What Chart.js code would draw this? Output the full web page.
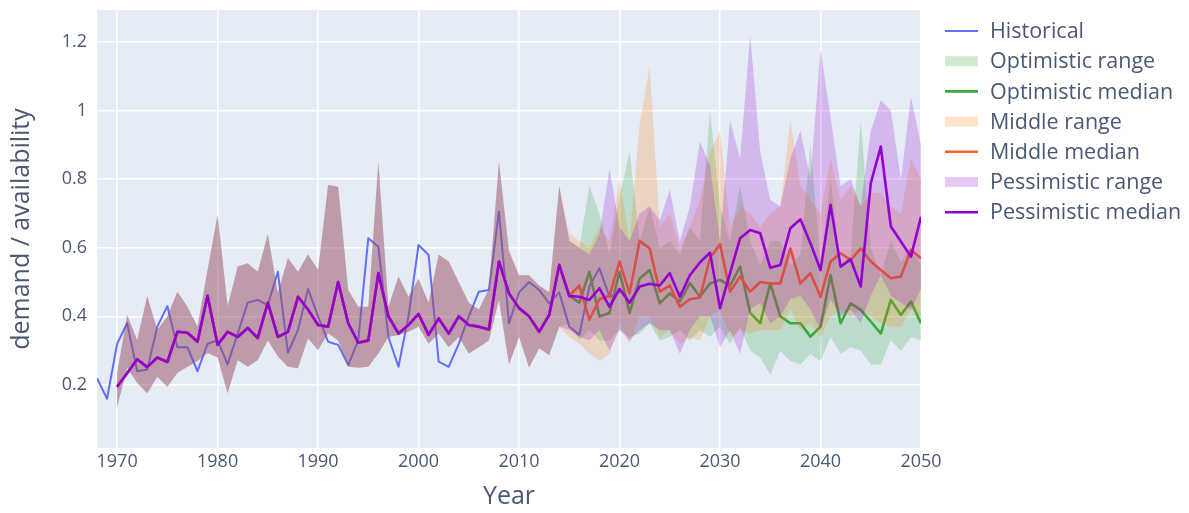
<!DOCTYPE html>
<html>
<head>
<meta charset="utf-8">
<script src="https://cdn.jsdelivr.net/npm/chart.js@4.4.1/dist/chart.umd.min.js"></script>
<style>
html,body{margin:0;padding:0;background:#ffffff;}
canvas{display:block;}
</style>
</head>
<body>
<canvas id="c" width="1189" height="513"></canvas>
<script>
// ---------- data ----------
const historicalStart = 1968;
const historical = [0.22,0.16,0.32,0.38,0.24,0.245,0.37,0.43,0.31,0.31,
  0.24,0.32,0.33,0.26,0.35,0.44,0.448,0.433,0.53,0.294,
  0.36,0.48,0.40,0.326,0.317,0.258,0.33,0.628,0.603,0.34,
  0.253,0.40,0.608,0.579,0.268,0.253,0.32,0.40,0.472,0.477,
  0.705,0.38,0.47,0.50,0.477,0.438,0.47,0.37,0.346,0.487,
  0.54,0.457,0.47];

const sharedStart = 1970; // 1970-2014, identical for all scenarios
const sharedLower = [0.135,0.25,0.206,0.176,0.224,0.195,0.235,0.253,0.27,0.293,
  0.28,0.176,0.273,0.253,0.273,0.33,0.283,0.253,0.249,0.336,
  0.302,0.35,0.33,0.253,0.25,0.253,0.292,0.34,0.346,0.355,
  0.37,0.32,0.35,0.31,0.34,0.292,0.31,0.33,0.448,0.26,
  0.34,0.25,0.307,0.287,0.37];
const sharedUpper = [0.234,0.404,0.331,0.459,0.36,0.40,0.472,0.428,0.37,0.535,
  0.696,0.43,0.545,0.555,0.53,0.64,0.468,0.57,0.53,0.58,
  0.535,0.783,0.778,0.477,0.428,0.428,0.851,0.428,0.516,0.457,
  0.51,0.44,0.58,0.56,0.50,0.44,0.42,0.48,0.85,0.59,
  0.52,0.52,0.49,0.47,0.78];
const sharedMedian = [0.195,0.234,0.275,0.252,0.28,0.267,0.355,0.352,0.326,0.46,
  0.317,0.355,0.34,0.366,0.337,0.44,0.34,0.355,0.457,0.42,
  0.375,0.37,0.50,0.38,0.323,0.33,0.526,0.40,0.35,0.375,
  0.407,0.346,0.394,0.35,0.40,0.375,0.37,0.362,0.56,0.467,
  0.424,0.40,0.355,0.404,0.55];

// forecast years 2015-2050
const optMedian = [0.46,0.44,0.53,0.40,0.41,0.53,0.41,0.51,0.535,0.438,
  0.467,0.443,0.497,0.457,0.496,0.506,0.49,0.545,0.41,0.38,
  0.496,0.40,0.38,0.38,0.341,0.37,0.52,0.38,0.438,0.419,
  0.385,0.35,0.448,0.404,0.443,0.38];
const optUpper = [0.62,0.60,0.78,0.70,0.58,0.75,0.88,0.62,0.72,0.60,
  0.62,0.58,0.66,0.62,1.0,0.72,0.62,0.78,0.62,0.55,
  0.62,0.62,0.55,0.58,0.90,0.55,0.80,0.55,0.58,0.97,
  0.60,0.52,0.62,0.56,0.60,0.55];
const optLower = [0.38,0.33,0.36,0.33,0.33,0.36,0.34,0.35,0.38,0.33,
  0.34,0.36,0.33,0.36,0.34,0.37,0.32,0.37,0.30,0.28,
  0.23,0.30,0.27,0.26,0.29,0.27,0.34,0.29,0.31,0.30,
  0.26,0.26,0.33,0.30,0.34,0.33];

const midMedian = [0.46,0.49,0.39,0.45,0.46,0.56,0.467,0.62,0.598,0.472,
  0.49,0.428,0.45,0.455,0.57,0.61,0.472,0.516,0.472,0.50,
  0.496,0.496,0.598,0.496,0.526,0.457,0.56,0.584,0.564,0.598,
  0.56,0.535,0.511,0.516,0.594,0.569];
const midUpper = [0.64,0.62,0.60,0.66,0.62,0.80,0.62,0.96,1.13,0.66,
  0.70,0.60,0.66,0.74,0.88,0.94,0.66,0.72,0.70,0.66,
  0.70,0.72,0.97,0.78,0.74,0.70,0.86,0.74,0.78,0.72,
  0.76,0.76,0.72,0.70,0.86,0.80];
const midLower = [0.34,0.32,0.29,0.27,0.29,0.38,0.32,0.40,0.40,0.34,
  0.36,0.32,0.34,0.33,0.40,0.42,0.34,0.36,0.35,0.36,
  0.36,0.36,0.42,0.36,0.38,0.34,0.40,0.42,0.40,0.42,
  0.40,0.38,0.37,0.37,0.42,0.40];

const pessMedian = [0.459,0.457,0.448,0.482,0.428,0.48,0.44,0.487,0.495,0.49,
  0.526,0.457,0.52,0.557,0.586,0.424,0.526,0.628,0.652,0.642,
  0.542,0.55,0.657,0.683,0.613,0.535,0.725,0.545,0.566,0.487,
  0.788,0.895,0.662,0.618,0.574,0.69];
const pessUpper = [0.62,0.60,0.58,0.64,0.83,0.66,0.62,0.70,0.72,0.68,
  0.77,0.62,0.72,0.91,0.84,0.62,0.97,0.86,1.22,0.88,
  0.74,0.72,0.86,0.94,0.80,1.18,0.98,0.78,0.80,0.72,
  0.94,1.03,1.00,0.80,1.04,0.90];
const pessLower = [0.36,0.34,0.33,0.36,0.30,0.36,0.33,0.36,0.38,0.36,
  0.36,0.29,0.36,0.40,0.40,0.31,0.36,0.29,0.42,0.44,
  0.38,0.40,0.45,0.46,0.42,0.36,0.45,0.40,0.42,0.38,
  0.46,0.52,0.46,0.44,0.42,0.48];

const xTicks = [1970,1980,1990,2000,2010,2020,2030,2040,2050];
const yTicks = [0.2,0.4,0.6,0.8,1.0,1.2];
const legendLabels = ['Historical','Optimistic range','Optimistic median','Middle range','Middle median','Pessimistic range','Pessimistic median'];

// ---------- styling ----------
const FONT = '"Open Sans", "DejaVu Sans", sans-serif';
const TXT = '#4a5873';
const C = {
  hist: '#636efa',
  opt: '#3aa83a', optFill: 'rgba(44,160,44,0.22)',
  mid: '#ee6622', midFill: 'rgba(255,127,14,0.22)',
  pess: '#9400d3', pessFill: 'rgba(148,0,211,0.22)'
};

function pts(start, vals){ return vals.map((v,i)=>({x:start+i, y:v})); }
const full = (shared, fc) => pts(sharedStart, shared.concat(fc));

const none = 'rgba(0,0,0,0)';
function rangeSets(name, lower, upper, fillColor, order){
  return [
    {label: name + ' lower', data: full(sharedLower, lower), borderColor: none, borderWidth: 0, fill: false, order: order},
    {label: name + ' range', data: full(sharedUpper, upper), borderColor: none, borderWidth: 0, backgroundColor: fillColor, fill: '-1', order: order - 1}
  ];
}

const datasets = [
  {label:'Historical', data: pts(historicalStart, historical), borderColor: C.hist, borderWidth: 2, fill:false, order: 20},
  ...rangeSets('Optimistic', optLower, optUpper, C.optFill, 19),
  {label:'Optimistic median', data: full(sharedMedian, optMedian), borderColor: C.opt, borderWidth: 2.6, fill:false, order: 17},
  ...rangeSets('Middle', midLower, midUpper, C.midFill, 16),
  {label:'Middle median', data: full(sharedMedian, midMedian), borderColor: C.mid, borderWidth: 2.6, fill:false, order: 14},
  ...rangeSets('Pessimistic', pessLower, pessUpper, C.pessFill, 13),
  {label:'Pessimistic median', data: full(sharedMedian, pessMedian), borderColor: C.pess, borderWidth: 2.6, fill:false, order: 11}
];

const legendItems = [
  {type:'line', color:C.hist, w:2},
  {type:'fill', color:C.optFill},
  {type:'line', color:C.opt, w:2.6},
  {type:'fill', color:C.midFill},
  {type:'line', color:C.mid, w:2.6},
  {type:'fill', color:C.pessFill},
  {type:'line', color:C.pess, w:2.6}
];

const bgPlugin = {
  id:'bg',
  beforeDraw(chart){
    const {ctx, chartArea:a} = chart;
    ctx.save();
    ctx.fillStyle = '#e5ecf6';
    ctx.fillRect(a.left, a.top, a.right - a.left, a.bottom - a.top);
    ctx.restore();
  }
};

const legendPlugin = {
  id:'customLegend',
  afterDraw(chart){
    const ctx = chart.ctx;
    ctx.save();
    ctx.font = '21.5px ' + FONT;
    ctx.textBaseline = 'middle';
    ctx.textAlign = 'left';
    legendItems.forEach((it, i) => {
      const y = 31 + i * 30.2;
      if (it.type === 'line'){
        ctx.strokeStyle = it.color;
        ctx.lineWidth = it.w;
        ctx.beginPath(); ctx.moveTo(945, y); ctx.lineTo(978, y); ctx.stroke();
      } else {
        ctx.fillStyle = it.color;
        ctx.fillRect(945, y - 5, 33, 10);
      }
      ctx.fillStyle = TXT;
      ctx.fillText(legendLabels[i], 990, y + 1);
    });
    ctx.restore();
  }
};

new Chart(document.getElementById('c'), {
  type: 'line',
  data: { datasets },
  plugins: [bgPlugin, legendPlugin],
  options: {
    responsive: false,
    animation: false,
    devicePixelRatio: 1,
    layout: { padding: { left: 0, right: 268, top: 10, bottom: 0 } },
    plugins: { legend: { display: false }, tooltip: { enabled: false } },
    elements: { point: { radius: 0 }, line: { tension: 0, borderJoinStyle: 'round' } },
    scales: {
      x: {
        type: 'linear', min: 1968, max: 2050,
        afterBuildTicks: s => { s.ticks = xTicks.map(v => ({value: v})); },
        afterFit: s => { s.height = 65; s.paddingLeft = 0; s.paddingRight = 0; },
        grid: { color: '#ffffff', lineWidth: 1.5, drawTicks: false },
        border: { display: false },
        ticks: { font: { family: FONT, size: 18 }, color: TXT, padding: 3, maxRotation: 0, autoSkip: false,
                 callback: v => String(v) },
        title: { display: true, text: 'Year', font: { family: FONT, size: 25 }, color: TXT, padding: { top: 0, bottom: 1 } }
      },
      y: {
        type: 'linear', min: 0.0163, max: 1.293,
        afterBuildTicks: s => { s.ticks = yTicks.map(v => ({value: v})); },
        afterFit: s => { s.width = 97; s.paddingTop = 0; s.paddingBottom = 0; },
        grid: { color: '#ffffff', lineWidth: 1.5, drawTicks: false },
        border: { display: false },
        ticks: { font: { family: FONT, size: 18 }, color: TXT, padding: 10,
                 callback: v => String(Number(v.toFixed(1))) },
        title: { display: true, text: 'demand / availability', font: { family: FONT, size: 25 }, color: TXT, padding: { top: 7, bottom: 0 } }
      }
    }
  }
});
</script>
</body>
</html>
